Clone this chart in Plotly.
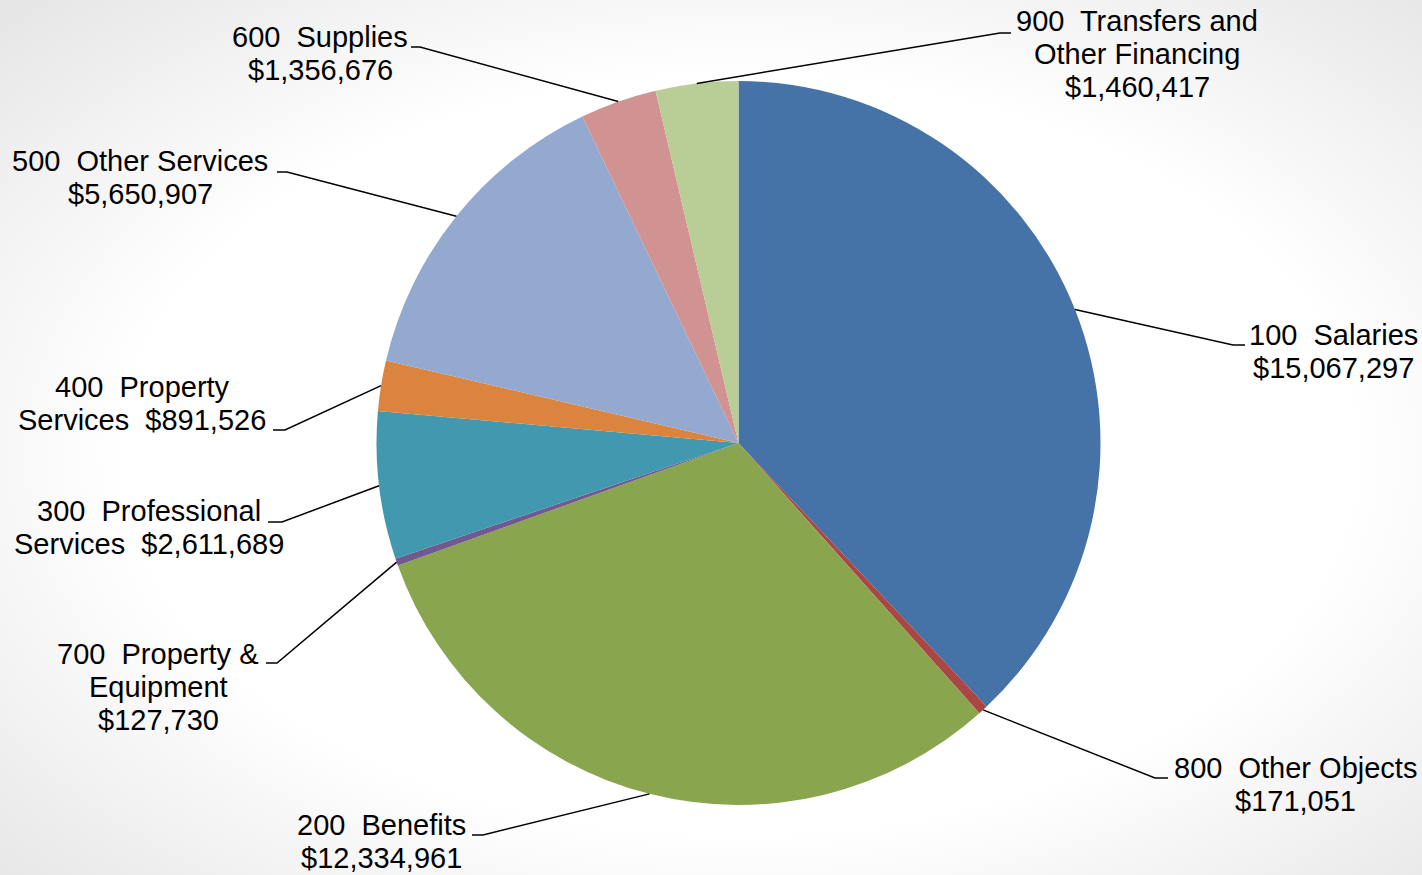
import math
import base64
import plotly.graph_objects as go

# ---------------- data ----------------
categories = [
    "100  Salaries",
    "800  Other Objects",
    "200  Benefits",
    "700  Property & Equipment",
    "300  Professional Services",
    "400  Property Services",
    "500  Other Services",
    "600  Supplies",
    "900  Transfers and Other Financing",
]
values = [15067297, 171051, 12334961, 127730, 2611689, 891526, 5650907, 1356676, 1460417]
colors = ["#4572A7", "#AA4643", "#89A54E", "#71588F", "#4198AF",
          "#DB843D", "#93A9CF", "#D19392", "#B9CD96"]

# label text split into lines ({v} = formatted value)
label_lines = [
    ["100  Salaries", "{v}"],
    ["800  Other Objects", "{v}"],
    ["200  Benefits", "{v}"],
    ["700  Property &", "Equipment", "{v}"],
    ["300  Professional", "Services  {v}"],
    ["400  Property", "Services  {v}"],
    ["500  Other Services", "{v}"],
    ["600  Supplies", "{v}"],
    ["900  Transfers and", "Other Financing", "{v}"],
]

# ---------------- layout (pixels) ----------------
W, H = 1422, 875
CX, CY, R = 738.5, 443.0, 362.0
LINE_H = 33
FONT_SIZE = 29
# (block centre x, first line y, elbow x, elbow y, end x)
label_pos = [
    (1333, 335, 1233, 345, 1245),
    (1295, 768, 1155, 778, 1168),
    (381, 825, 483, 835, 472),
    (158, 654, 277, 663, 266),
    (149, 511, 282, 522, 268),
    (142, 387, 285, 430, 273),
    (140, 161, 287, 172, 277),
    (320, 37, 420, 47, 411),
    (1137, 21, 1000, 33, 1011),
]


def px(x):
    return x / W


def py(y):
    return 1 - y / H


fig = go.Figure()
fig.add_trace(go.Pie(
    labels=categories,
    values=values,
    sort=False,
    direction="clockwise",
    rotation=0,
    textinfo="none",
    marker=dict(colors=colors, line=dict(width=0)),
    domain=dict(x=[px(CX - R), px(CX + R)], y=[py(CY + R), py(CY - R)]),
    showlegend=False,
    hovertemplate="%{label}<br>$%{value:,}<extra></extra>",
))

total = sum(values)
shapes = []
annotations = []
cum = 0.0
for i, v in enumerate(values):
    mid = (cum + v / 2) / total * 2 * math.pi
    cum += v
    sx = CX + R * math.sin(mid)
    sy = CY - R * math.cos(mid)
    bx, by, ex, ey, endx = label_pos[i]
    path = "M {:.5f} {:.5f} L {:.5f} {:.5f} L {:.5f} {:.5f}".format(
        px(sx), py(sy), px(ex), py(ey), px(endx), py(ey))
    shapes.append(dict(type="path", xref="paper", yref="paper", path=path,
                       line=dict(color="black", width=1.5), layer="above"))
    vtxt = "${:,}".format(v)
    for j, ln in enumerate(label_lines[i]):
        t = ln.replace("{v}", vtxt).replace("  ", "\u00a0 ")
        annotations.append(dict(
            x=px(bx), y=py(by + j * LINE_H), xref="paper", yref="paper",
            text=t, showarrow=False, xanchor="center", yanchor="middle",
            font=dict(family="Liberation Sans, Arial, sans-serif",
                      size=FONT_SIZE, color="black"),
        ))

svg = ('<svg xmlns="http://www.w3.org/2000/svg" width="1422" height="875">'
       '<defs><radialGradient id="g" cx="52%" cy="52%" r="72%">'
       '<stop offset="0%" stop-color="#ffffff"/>'
       '<stop offset="60%" stop-color="#ffffff"/>'
       '<stop offset="100%" stop-color="#e6e6e6"/>'
       '</radialGradient></defs>'
       '<rect width="1422" height="875" fill="url(#g)"/></svg>')
src = "data:image/svg+xml;base64," + base64.b64encode(svg.encode()).decode()

fig.update_layout(
    width=W, height=H,
    margin=dict(l=0, r=0, t=0, b=0),
    paper_bgcolor="white",
    plot_bgcolor="white",
    shapes=shapes,
    annotations=annotations,
    images=[dict(source=src, xref="paper", yref="paper", x=0, y=1,
                 sizex=1, sizey=1, sizing="stretch", xanchor="left",
                 yanchor="top", layer="below")],
)

fig.write_html("out.html")
